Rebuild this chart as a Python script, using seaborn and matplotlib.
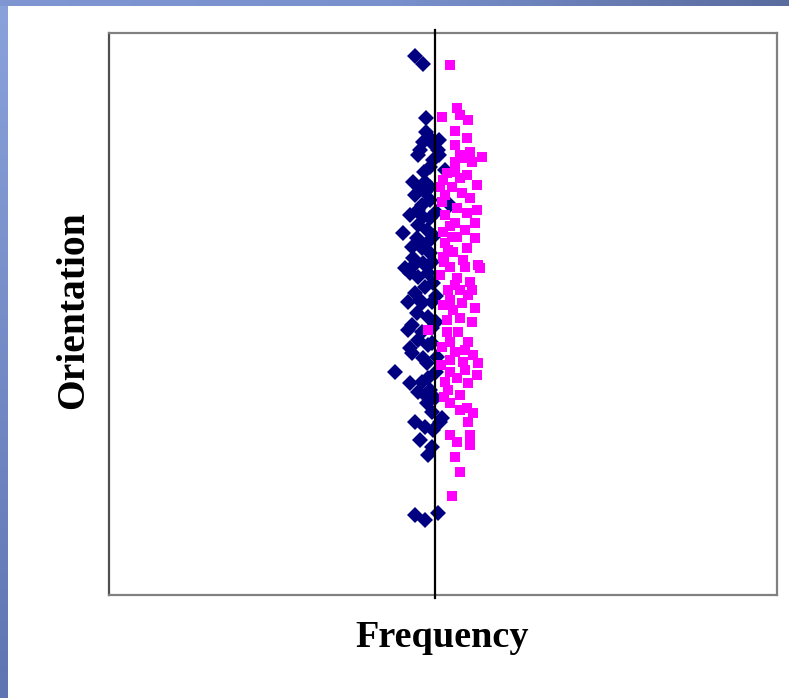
import numpy as np
import pandas as pd
import matplotlib
matplotlib.use("Agg")
import matplotlib.pyplot as plt
import seaborn as sns

# ---- data (frequency offset from the reference line, orientation) ----
navy_freq = [-20, -12, -9, -9, -6, -12, -3, 4, -15, 3, -17, -2, 4, 10, -5, -11,
             -22, -10, -5, -13, -20, -10, -5, -13, 15, -25, -12, -5, -17, -8,
             -32, -18, -7, -23, -13, -5, -22, -12, -3, -23, -25, -17, -7, -10,
             -20, -27, -13, -3, -18, -7, -23, -27, -13, -3, -17, -25, -7, -3,
             -23, -12, -8, -40, -25, -13, -7, -17, -5, -8, 0, -3, 7, -20, -10,
             5, -15, -3, -7, -20, -10, 3, 1, -1, -2, 1, 1, 2, 1, -17, -30, -15,
             -10, -2]
navy_orient = [258, 250, 196, 182, 177, 172, 171, 174, 164, 164, 159, 154, 159,
               144, 147, 142, 132, 132, 127, 126, 119, 122, 114, 109, 109, 99,
               97, 96, 89, 84, 81, 76, 72, 67, 66, 61, 56, 51, 52, 47, 41, 37,
               41, 27, 21, 12, 11, 12, 1, -3, -11, -16, -18, -14, -26, -34, -31,
               -29, -39, -44, -49, -58, -69, -68, -64, -78, -76, -89, -84, -98,
               -104, -108, -113, -108, -126, -133, -141, -201, -206, -199, 102,
               78, 31, 18, -8, -43, -58, 104, 46, 14, -81, -116]

pink_freq = [15, 22, 25, 33, 7, 20, 32, 20, 35, 47, 25, 37, 20, 27, 12, 20, 32,
             8, 25, 42, 5, 17, 27, 10, 42, 22, 10, 32, 40, 20, 8, 30, 22, 40,
             10, 32, 18, 8, 28, 43, 15, 30, 45, 5, 22, 35, 13, 25, 33, 15, 27,
             40, 18, 12, 25, 37, -7, 12, 23, 33, 15, 7, 30, 20, 38, 15, 28, 43,
             15, 30, 42, 10, 22, 33, 13, 25, 15, 32, 38, 33, 15, 22, 35, 35, 20,
             25, 17, 7, 15, 13, 9, 20, 8, 6, 9, 25, 35, 17, 37]
pink_orient = [249, 206, 199, 194, 197, 183, 176, 169, 162, 157, 159, 152, 152,
               156, 141, 142, 139, 134, 136, 129, 127, 127, 121, 119, 104, 106,
               99, 101, 91, 91, 82, 84, 77, 76, 71, 66, 62, 57, 54, 49, 47, 47,
               46, 39, 36, 32, 24, 24, 19, 14, 11, 6, 4, -6, -4, -8, -16, -18,
               -18, -28, -28, -33, -36, -38, -41, -46, -48, -49, -58, -56, -61,
               -68, -64, -69, -76, -81, -89, -94, -99, -108, -121, -128, -121,
               -131, -143, -158, -182, 112, 88, 64, 52, 29, 9, -51, -83, -96,
               116, 77, 24]

navy_df = pd.DataFrame({"Frequency": navy_freq, "Orientation": navy_orient})
pink_df = pd.DataFrame({"Frequency": pink_freq, "Orientation": pink_orient})

W, H = 789, 698
fig = plt.figure(figsize=(W / 100, H / 100), dpi=100)
fig.patch.set_facecolor("white")

# slide decoration: top and left blue gradient bands
top = fig.add_axes([0, 1 - 6 / H, 1, 6 / H])
top.imshow(np.linspace(0, 1, 256)[None, :], aspect="auto",
           cmap=matplotlib.colors.LinearSegmentedColormap.from_list(
               "t", ["#7f96d3", "#7890cc", "#5a6b9e"]))
top.axis("off")
left = fig.add_axes([0, 0, 8 / W, 1 - 6 / H])
left.imshow(np.linspace(0, 1, 256)[:, None], aspect="auto",
            cmap=matplotlib.colors.LinearSegmentedColormap.from_list(
                "l", ["#8aa2dc", "#5f75b2"]))
left.axis("off")

ax = fig.add_axes([109 / W, (H - 595) / H, 668 / W, 562 / H])
sns.scatterplot(data=navy_df, x="Frequency", y="Orientation", ax=ax,
                marker="D", s=66, color="#000080", edgecolor="none",
                linewidth=0, zorder=2)
sns.scatterplot(data=pink_df, x="Frequency", y="Orientation", ax=ax,
                marker="s", s=62, color="#FF00FF", edgecolor="none",
                linewidth=0, zorder=3)
ax.axvline(0, ymin=-0.006, ymax=1.006, color="black", lw=1.6,
           clip_on=False, zorder=5)

ax.set_xlim(-326, 342)
ax.set_ylim(-281, 281)
ax.set_xticks([])
ax.set_yticks([])
ax.set_xlabel("")
ax.set_ylabel("")
for name, sp in ax.spines.items():
    sp.set_color("#808080")
    sp.set_linewidth(1.6)
ax.spines["left"].set_color("#505050")

fig.text(442 / W, (H - 647) / H, "Frequency", ha="center", va="baseline",
         fontsize=27.5, fontweight="bold", family=["Liberation Serif", "DejaVu Serif"])
fig.text(74 / W, (H - 310) / H, "Orientation", ha="center", va="center",
         rotation=90, fontsize=28.5, fontweight="bold",
         family=["Liberation Serif", "DejaVu Serif"])

fig.savefig("out.png", dpi=100)
